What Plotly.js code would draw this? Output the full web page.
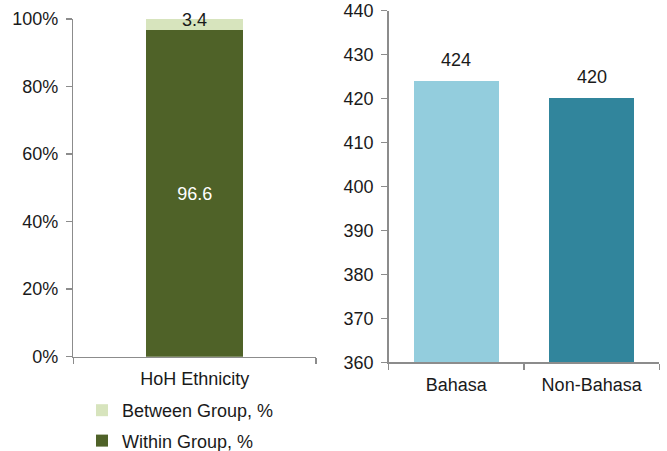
<!DOCTYPE html>
<html>
<head>
<meta charset="utf-8">
<script src="https://cdn.plot.ly/plotly-3.0.1.min.js"></script>
<style>html,body{margin:0;padding:0;background:#fff;}#chart{width:667px;height:451px;}</style>
</head>
<body>
<div id="chart"></div>
<script>
// Left panel: decomposition of variance by HoH ethnicity
var leftCategories = ["HoH Ethnicity"];
var withinGroup = [96.6];
var betweenGroup = [3.4];
var leftTickVals = [0, 20, 40, 60, 80, 100];
var leftTickText = ["0%", "20%", "40%", "60%", "80%", "100%"];

// Right panel: mean scores by language
var rightCategories = ["Bahasa", "Non-Bahasa"];
var rightValues = [424, 420];
var rightTickVals = [360, 370, 380, 390, 400, 410, 420, 430, 440];

var W = 667, H = 451;
var FONT = "Arial, 'Liberation Sans', sans-serif";
var TXT = "#1a1a1a";
var AX = "#8c8c8c";

function px(x){ return x / W; }
function py(y){ return (H - y) / H; }

var traces = [
  {
    type: "bar", name: "Within Group, %",
    x: leftCategories, y: withinGroup,
    xaxis: "x", yaxis: "y",
    width: 0.4,
    marker: {color: "#4f6228"},
    text: withinGroup.map(function(v){ return v.toFixed(1); }),
    textposition: "inside", insidetextanchor: "middle",
    textfont: {color: "#ffffff", size: 18, family: FONT},
    hoverinfo: "skip",
    legendgroup: "b", legendrank: 2
  },
  {
    type: "bar", name: "Between Group, %",
    x: leftCategories, y: betweenGroup,
    xaxis: "x", yaxis: "y",
    width: 0.4,
    marker: {color: "#d7e4bd"},
    textposition: "none",
    hoverinfo: "skip",
    legendgroup: "a", legendrank: 1
  },
  {
    type: "bar", name: "score",
    x: rightCategories, y: rightValues,
    xaxis: "x2", yaxis: "y2",
    width: 0.63,
    marker: {color: ["#93cddd", "#31859c"]},
    textposition: "none",
    showlegend: false,
    hoverinfo: "skip"
  }
];

var annotations = [];
leftCategories.forEach(function(c, i){
  annotations.push({
    xref: "x", yref: "y", x: c, y: withinGroup[i] + betweenGroup[i],
    text: betweenGroup[i].toFixed(1), showarrow: false,
    yanchor: "middle", yshift: -1,
    font: {size: 18, color: TXT, family: FONT}
  });
});
rightCategories.forEach(function(c, i){
  annotations.push({
    xref: "x2", yref: "y2", x: c, y: rightValues[i],
    text: String(rightValues[i]), showarrow: false,
    yanchor: "middle", yshift: 21,
    font: {size: 18, color: TXT, family: FONT}
  });
});

var axisCommon = {
  showgrid: false, zeroline: false, showline: true,
  linecolor: AX, linewidth: 1.5,
  ticks: "outside", tickcolor: AX, ticklen: 6, tickwidth: 1.5,
  tickfont: {size: 18, color: TXT, family: FONT},
  ticklabeloverflow: "allow",
  fixedrange: true
};

var layout = {
  width: W, height: H,
  margin: {l: 0, r: 0, t: 0, b: 0, autoexpand: false},
  paper_bgcolor: "#ffffff", plot_bgcolor: "#ffffff",
  font: {family: FONT, size: 18, color: TXT},
  barmode: "stack",
  showlegend: true,
  legend: {
    x: px(82), xanchor: "left", y: py(392), yanchor: "top",
    traceorder: "grouped", tracegroupgap: 4,
    font: {size: 18, color: TXT, family: FONT},
    bgcolor: "rgba(0,0,0,0)", borderwidth: 0
  },
  xaxis: Object.assign({}, axisCommon, {
    domain: [px(73.3), px(316)], anchor: "y",
    type: "category", range: [-0.5, 0.5],
    tickson: "boundaries", ticklabelstandoff: 5
  }),
  yaxis: Object.assign({}, axisCommon, {
    domain: [py(356.7), py(19)], anchor: "x",
    range: [0, 100], tickvals: leftTickVals, ticktext: leftTickText,
    ticklabelstandoff: 4
  }),
  xaxis2: Object.assign({}, axisCommon, {
    domain: [px(388.7), px(659.3)], anchor: "y2",
    type: "category", range: [-0.5, 1.5],
    tickson: "boundaries", ticklabelstandoff: 6
  }),
  yaxis2: Object.assign({}, axisCommon, {
    domain: [py(362.3), py(10.5)], anchor: "x2",
    range: [360, 440], tickvals: rightTickVals,
    ticklabelstandoff: 4
  }),
  annotations: annotations
};

Plotly.newPlot("chart", traces, layout, {displayModeBar: false, staticPlot: true});
</script>
</body>
</html>
